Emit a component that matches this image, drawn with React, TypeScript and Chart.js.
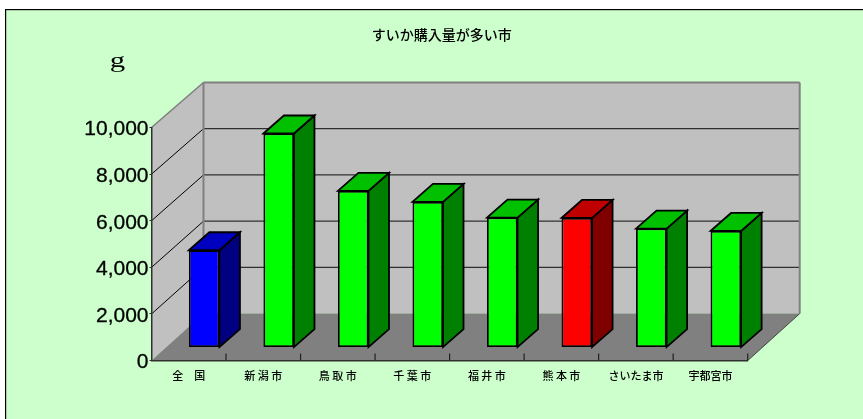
import React, { useEffect, useRef } from "react";
import { Chart, registerables } from "chart.js";

Chart.register(...registerables);

const chartTitle = "すいか購入量が多い市";
const unitLabel = "g";
const categories = ["全　国", "新 潟 市", "鳥 取 市", "千 葉 市", "福 井 市", "熊 本 市", "さいたま市", "宇都宮市"];
const purchaseGrams = [4176, 9185, 6721, 6249, 5579, 5562, 5107, 5004];
const yTickValues = [0, 2000, 4000, 6000, 8000, 10000];
const frontColors = ["#0000ff", "#00ff00", "#00ff00", "#00ff00", "#00ff00", "#ff0000", "#00ff00", "#00ff00"];
const sideColors = ["#000080", "#008000", "#008000", "#008000", "#008000", "#800000", "#008000", "#008000"];
const topColors = ["#0000c0", "#00c000", "#00c000", "#00c000", "#00c000", "#c00000", "#00c000", "#00c000"];

const WALL_DX = 52;
const WALL_DY_BOTTOM = 47;
const WALL_DY_TOP = 45;
const BAR_SHIFT_X = 15.4;
const BAR_SHIFT_Y = 13;
const BAR_DX = 20.5;
const BAR_DY = 18;

function poly(ctx: CanvasRenderingContext2D, pts: number[][], fill?: string, stroke?: string, lw = 1) {
  ctx.beginPath();
  pts.forEach((p, i) => (i ? ctx.lineTo(p[0], p[1]) : ctx.moveTo(p[0], p[1])));
  ctx.closePath();
  if (fill) {
    ctx.fillStyle = fill;
    ctx.fill();
  }
  if (stroke) {
    ctx.strokeStyle = stroke;
    ctx.lineWidth = lw;
    ctx.lineJoin = "miter";
    ctx.stroke();
  }
}

function seg(ctx: CanvasRenderingContext2D, x1: number, y1: number, x2: number, y2: number, color: string, lw: number) {
  ctx.beginPath();
  ctx.moveTo(x1, y1);
  ctx.lineTo(x2, y2);
  ctx.strokeStyle = color;
  ctx.lineWidth = lw;
  ctx.stroke();
}

const box3d = {
  id: "box3d",
  afterLayout(chart: any) {
    // the tick labels are wider than the narrow axis box: widen the label clip area
    chart.scales.y.left = 0;
  },
  beforeDraw(chart: any) {
    const { ctx, width, height, chartArea: a, scales } = chart;
    const y = scales.y;
    const x = scales.x;
    const vMax = yTickValues[yTickValues.length - 1];
    const backY = (v: number) => y.getPixelForValue(v) - (WALL_DY_BOTTOM + ((WALL_DY_TOP - WALL_DY_BOTTOM) * v) / vMax);
    ctx.save();
    ctx.fillStyle = "#ffffff";
    ctx.fillRect(0, 0, width, height);
    ctx.fillStyle = "#ccffcc";
    ctx.fillRect(5, 9, width - 5, height - 9);
    ctx.fillStyle = "#000000";
    ctx.fillRect(5, 9, width - 5, 1.2);
    ctx.fillRect(5, 9, 1.2, height - 9);
    const y0 = y.getPixelForValue(yTickValues[0]);
    const yTop = y.getPixelForValue(vMax);
    const by0 = backY(yTickValues[0]);
    const byTop = backY(vMax);
    const L = a.left;
    const R = a.right;
    const BL = L + WALL_DX;
    const BR = R + WALL_DX;
    poly(ctx, [[L, y0], [BL, by0], [BL, byTop], [L, yTop]], "#c0c0c0");
    poly(ctx, [[BL, by0], [BR, by0], [BR, byTop], [BL, byTop]], "#c0c0c0");
    poly(ctx, [[L, y0], [R, y0], [BR, by0], [BL, by0]], "#808080");
    yTickValues.forEach((v) => {
      if (v === yTickValues[0] || v === vMax) return;
      const py = y.getPixelForValue(v);
      seg(ctx, L, py, BL, backY(v), "#000000", 1);
      seg(ctx, BL, backY(v), BR, backY(v), "#303030", 1.2);
    });
    seg(ctx, BL, by0, BL, byTop, "#808080", 2);
    seg(ctx, L, yTop, BL, byTop, "#808080", 1.6);
    seg(ctx, BL, byTop, BR, byTop, "#808080", 2);
    seg(ctx, BR, by0, BR, byTop, "#808080", 2);
    seg(ctx, R, y0, BR, by0, "#404040", 1);
    const half = (x.getPixelForValue(1) - x.getPixelForValue(0)) / 2;
    categories.forEach((_, i) => {
      const px = x.getPixelForValue(i) + half;
      seg(ctx, px, y0, px, y0 - 7, "#202020", 1.2);
    });
    ctx.fillStyle = "#000000";
    ctx.font = '22px "Liberation Serif"';
    ctx.textAlign = "center";
    ctx.textBaseline = "alphabetic";
    ctx.translate(117.5, 66.7);
    ctx.scale(1.4, 1);
    ctx.fillText(unitLabel, 0, 0);
    ctx.restore();
  },
  beforeDatasetDraw(chart: any) {
    chart.ctx.save();
    chart.ctx.translate(BAR_SHIFT_X, -BAR_SHIFT_Y);
  },
  afterDatasetDraw(chart: any, args: any) {
    const ctx = chart.ctx;
    args.meta.data.forEach((el: any, i: number) => {
      const { x, y, base, width } = el.getProps(["x", "y", "base", "width"], true);
      const l = x - width / 2;
      const r = x + width / 2;
      poly(ctx, [[r, y], [r + BAR_DX, y - BAR_DY], [r + BAR_DX, base - BAR_DY], [r, base]], sideColors[i], "#000000", 1.8);
      poly(ctx, [[l, y], [l + BAR_DX, y - BAR_DY], [r + BAR_DX, y - BAR_DY], [r, y]], topColors[i], "#000000", 1.8);
    });
    ctx.restore();
  },
};

export default function App() {
  const ref = useRef<HTMLCanvasElement>(null);
  useEffect(() => {
    const chart = new Chart(ref.current as HTMLCanvasElement, {
      type: "bar",
      plugins: [box3d],
      data: {
        labels: categories,
        datasets: [
          {
            label: chartTitle,
            data: purchaseGrams,
            backgroundColor: frontColors,
            borderColor: "#000000",
            borderWidth: 1.8,
            borderSkipped: false,
            barPercentage: 0.41,
            categoryPercentage: 1,
            clip: false,
          } as any,
        ],
      },
      options: {
        responsive: false,
        animation: false,
        devicePixelRatio: 1,
        layout: { padding: { left: 135.7, right: 115.3, top: 0, bottom: 0 } },
        plugins: {
          legend: { display: false },
          tooltip: { enabled: false },
          title: {
            display: true,
            text: chartTitle,
            color: "#000000",
            font: { family: '"Noto Sans CJK JP"', size: 14, weight: "500" },
            padding: { top: 26.6, bottom: 84.1 },
          },
        },
        scales: {
          x: {
            offset: true,
            afterFit: (s: any) => {
              s.height = 58.4;
            },
            grid: { display: false },
            border: { display: true, color: "#303030", width: 1.5 },
            ticks: {
              autoSkip: false,
              maxRotation: 0,
              minRotation: 0,
              padding: 1,
              color: "#000000",
              font: { family: '"Noto Sans CJK JP"', size: 11, weight: "500" },
            },
          },
          y: {
            min: yTickValues[0],
            max: yTickValues[yTickValues.length - 1],
            afterFit: (s: any) => {
              s.width = 15.8;
            },
            afterBuildTicks: (s: any) => {
              s.ticks = yTickValues.map((value) => ({ value }));
            },
            grid: { drawOnChartArea: false, drawTicks: true, tickLength: 2, color: "#303030" },
            border: { display: true, color: "#303030", width: 1.5 },
            ticks: {
              padding: 1,
              labelOffset: 2,
              color: "#000000",
              textStrokeColor: "#000000",
              textStrokeWidth: 0.3,
              font: { family: '"Liberation Sans"', size: 21 },
              callback: (v: any) => Number(v).toLocaleString("en-US"),
            },
          },
        },
      } as any,
    });
    return () => chart.destroy();
  }, []);
  return (
    <div style={{ position: "absolute", left: 0, top: 0, width: 863, height: 419 }}>
      <canvas ref={ref} width={863} height={419} style={{ display: "block" }} />
    </div>
  );
}
